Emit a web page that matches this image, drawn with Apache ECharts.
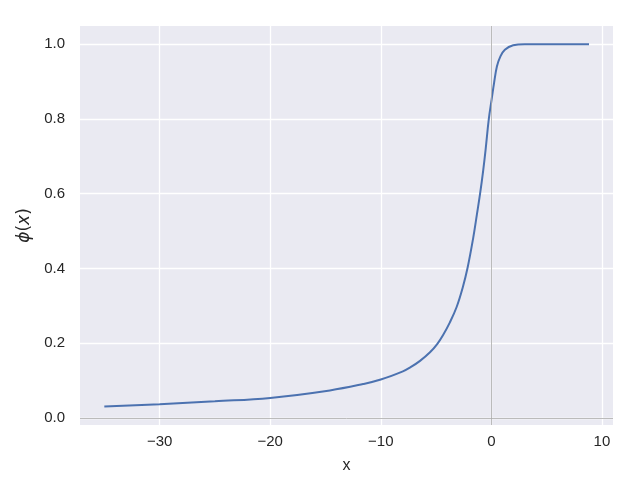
<!DOCTYPE html>
<html>
<head>
<meta charset="utf-8">
<script src="https://cdn.jsdelivr.net/npm/echarts@6/dist/echarts.min.js"></script>
<style>html,body{margin:0;padding:0;background:#fff}#c{width:640px;height:480px}</style>
</head>
<body>
<div id="c"></div>
<script>
var xValues = [-35.0, -30.0, -25.0, -20.0, -14.6, -11.6, -10.0, -8.0, -7.36, -6.45, -5.55, -4.9, -4.35, -3.75, -3.14, -2.6, -2.15, -1.64, -1.31, -1.02, -0.74, -0.52, -0.23, 0.02, 0.25, 0.5, 0.8, 1.22, 1.97, 3.0, 8.83];
var yValues = [0.031, 0.037, 0.045, 0.054, 0.074, 0.091, 0.103, 0.125, 0.135, 0.153, 0.176, 0.198, 0.223, 0.256, 0.297, 0.348, 0.402, 0.482, 0.544, 0.600, 0.662, 0.718, 0.800, 0.851, 0.897, 0.940, 0.966, 0.985, 0.997, 1.0, 1.0];
var xTicks = [-30, -20, -10, 0, 10];
var yTicks = [0.0, 0.2, 0.4, 0.6, 0.8, 1.0];

var data = xValues.map(function (x, i) { return [x, yValues[i]]; });
var txt = '#262626';
var font = 'Liberation Sans, Arial, sans-serif';
var chart = echarts.init(document.getElementById('c'), null, {renderer: 'canvas'});
chart.setOption({
  animation: false,
  backgroundColor: '#ffffff',
  grid: {left: 80, right: 27, top: 26, bottom: 55, show: true, backgroundColor: '#EAEAF2', borderWidth: 0,
         outerBoundsMode: 'none', containLabel: false},
  xAxis: {
    type: 'value', min: -37.2, max: 11.0,
    name: 'x', nameLocation: 'middle', nameGap: 33,
    nameTextStyle: {color: txt, fontSize: 16, fontFamily: font},
    axisLine: {show: false},
    axisTick: {show: false, customValues: xTicks},
    axisLabel: {customValues: xTicks, color: txt, fontSize: 15, fontFamily: font, margin: 9,
      formatter: function (v) { return String(v).replace('-', '\u2212'); }},
    splitLine: {show: true, lineStyle: {color: '#ffffff', width: 1.3}}
  },
  yAxis: {
    type: 'value', min: -0.0185, max: 1.0485,
    name: '{i|\u03d5}{n|(}{i|x}{n|)}', nameLocation: 'middle', nameGap: 44, nameRotate: 90,
    nameTextStyle: {color: txt, fontSize: 16, fontFamily: font,
      rich: {i: {fontStyle: 'italic', fontFamily: 'DejaVu Sans', fontSize: 17, color: txt},
             n: {fontFamily: 'DejaVu Sans', fontSize: 17, color: txt}}},
    axisLine: {show: false},
    axisTick: {show: false, customValues: yTicks},
    axisLabel: {customValues: yTicks, color: txt, fontSize: 15, fontFamily: font, margin: 15,
      formatter: function (v) { return v.toFixed(1); }},
    splitLine: {show: true, lineStyle: {color: '#ffffff', width: 1.3}}
  },
  series: [{
    type: 'line', data: data, showSymbol: false, smooth: 0.4,
    lineStyle: {color: '#4C72B0', width: 2},
    markLine: {
      silent: true, symbol: 'none', label: {show: false},
      lineStyle: {color: '#aaaaaa', width: 0.8, type: 'solid'},
      data: [{yAxis: 0}, {xAxis: 0}]
    },
    z: 3
  }]
});
</script>
</body>
</html>
